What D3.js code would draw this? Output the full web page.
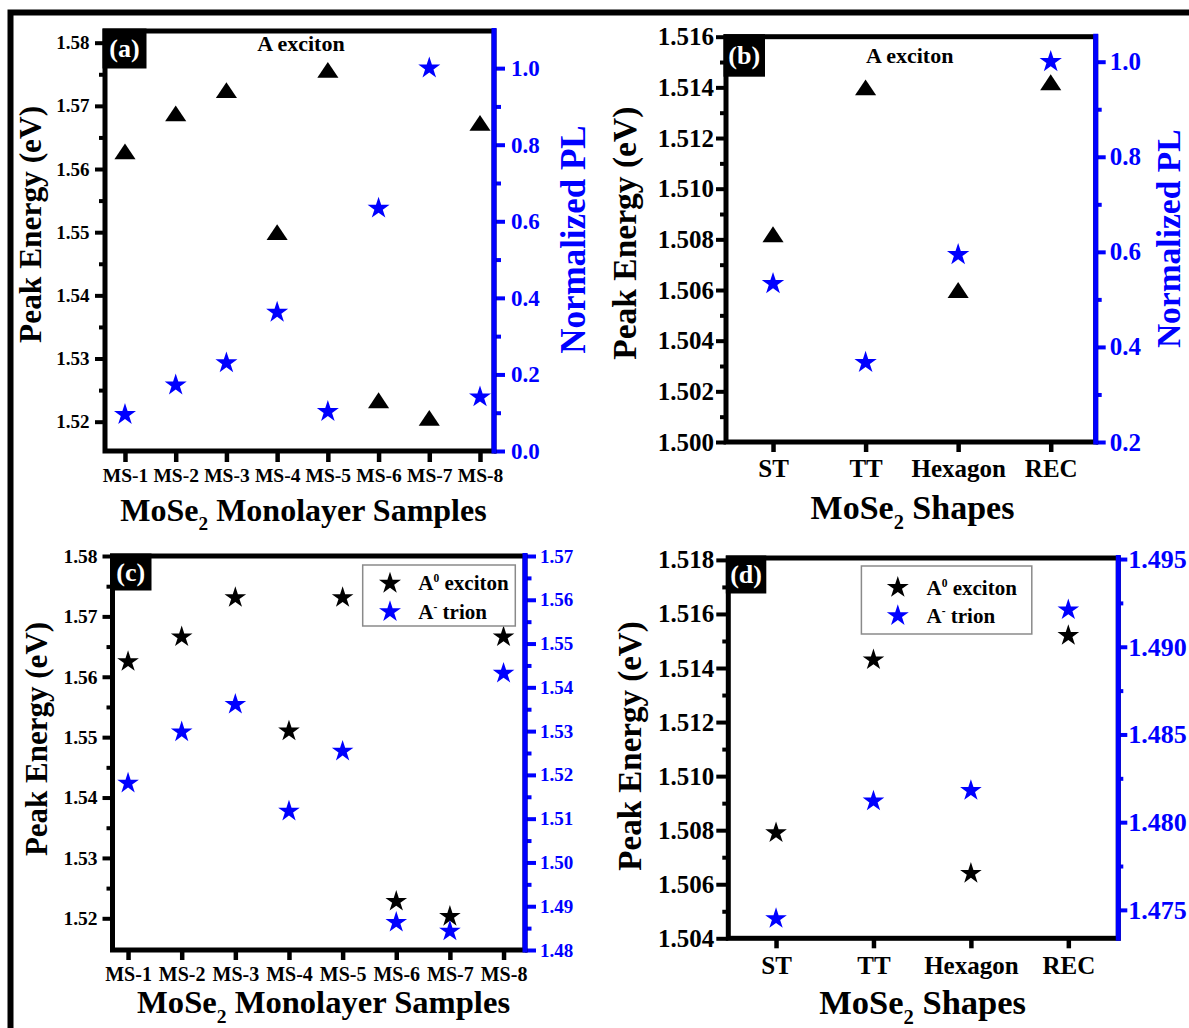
<!DOCTYPE html>
<meta charset="utf-8">
<html>
<head>
<style>
body {
  margin: 0;
  background: #fff;
}
svg text {
  font-family: "Liberation Serif", "Times New Roman", Times, serif;
  font-weight: bold;
}
</style>
</head>
<body>
<div id="fig"></div>

<script src="https://cdn.jsdelivr.net/npm/d3@7"></script>
<script>

// categories
var samples = ["MS-1", "MS-2", "MS-3", "MS-4", "MS-5", "MS-6", "MS-7", "MS-8"];
var shapes = ["ST", "TT", "Hexagon", "REC"];

// (a) A exciton peak energy (eV) and normalized PL per monolayer sample
var aPeak = [1.5628, 1.5688, 1.5725, 1.5500, 1.5757, 1.5234, 1.5206, 1.5673];
var aPL   = [0.095, 0.172, 0.230, 0.362, 0.103, 0.634, 1.000, 0.141];

// (b) A exciton peak energy (eV) and normalized PL per shape
var bPeak = [1.5082, 1.5140, 1.5060, 1.5142];
var bPL   = [0.533, 0.367, 0.594, 1.000];

// (c) A0 exciton (left axis) and A- trion (right axis) per sample
var cExciton = [1.5625, 1.5666, 1.5731, 1.5510, 1.5731, 1.5228, 1.5203, 1.5666];
var cTrion   = [1.5181, 1.5298, 1.5361, 1.5117, 1.5254, 1.4863, 1.4843, 1.5432];

// (d) A0 exciton (left axis) and A- trion (right axis) per shape
var dExciton = [1.5079, 1.5143, 1.5064, 1.5152];
var dTrion   = [1.4745, 1.4812, 1.4818, 1.4921];

// tick values
var aLeftTicks  = [1.52, 1.53, 1.54, 1.55, 1.56, 1.57, 1.58];
var aLeftMinor  = [1.525, 1.535, 1.545, 1.555, 1.565, 1.575];
var aRightTicks = [0.0, 0.2, 0.4, 0.6, 0.8, 1.0];
var aRightMinor = [0.1, 0.3, 0.5, 0.7, 0.9];
var bLeftTicks  = [1.500, 1.502, 1.504, 1.506, 1.508, 1.510, 1.512, 1.514, 1.516];
var bLeftMinor  = [1.501, 1.503, 1.505, 1.507, 1.509, 1.511, 1.513, 1.515];
var bRightTicks = [0.2, 0.4, 0.6, 0.8, 1.0];
var bRightMinor = [0.3, 0.5, 0.7, 0.9];
var cLeftTicks  = [1.52, 1.53, 1.54, 1.55, 1.56, 1.57, 1.58];
var cLeftMinor  = [1.525, 1.535, 1.545, 1.555, 1.565, 1.575];
var cRightTicks = [1.48, 1.49, 1.50, 1.51, 1.52, 1.53, 1.54, 1.55, 1.56, 1.57];
var cRightMinor = [1.485, 1.495, 1.505, 1.515, 1.525, 1.535, 1.545, 1.555, 1.565];
var dLeftTicks  = [1.504, 1.506, 1.508, 1.510, 1.512, 1.514, 1.516, 1.518];
var dLeftMinor  = [1.505, 1.507, 1.509, 1.511, 1.513, 1.515, 1.517];
var dRightTicks = [1.475, 1.480, 1.485, 1.490, 1.495];
var dRightMinor = [1.4775, 1.4825, 1.4875, 1.4925];

var FONT = '"Liberation Serif", "Times New Roman", Times, serif';
var BLUE = "#0000ff";

// triangle a bit wider than tall, centred on its bounding box
var wideTriangle = {
  draw: function(context, size) {
    var s = Math.sqrt(size), hw = s * 0.6, h = s * 0.9;
    context.moveTo(0, -h / 2);
    context.lineTo(hw, h / 2);
    context.lineTo(-hw, h / 2);
    context.closePath();
  }
};

var svg = d3.select("#fig")
  .append("svg")
    .attr("width", 1189)
    .attr("height", 1028);

svg.append("rect").attr("width", 1189).attr("height", 1028).attr("fill", "#fff");

// outer frame of the figure (cut at right and bottom)
svg.append("path")
  .attr("d", "M10.5,1032 V12.5 H1194")
  .attr("fill", "none")
  .attr("stroke", "#000")
  .attr("stroke-width", 6);

function styleAxis(sel, color, font, width) {
  sel.select(".domain").remove();
  sel.selectAll("line").attr("stroke", color).attr("stroke-width", width);
  sel.selectAll("text")
    .attr("fill", color)
    .style("font-family", FONT)
    .style("font-weight", "bold")
    .style("font-size", font + "px");
}

function supText(sel, main, sup, rest, size) {
  sel.append("tspan").text(main);
  sel.append("tspan").text(sup).style("font-size", (size * 0.55) + "px").attr("dy", -size * 0.38);
  sel.append("tspan").text(rest).attr("dy", size * 0.38);
}

function drawPanel(p) {
  var g = svg.append("g");
  var x = d3.scaleLinear().domain(p.xDomain).range([p.left, p.right]);
  var yL = d3.scaleLinear().domain(p.leftDomain).range([p.bottom, p.top]);
  var yR = d3.scaleLinear().domain(p.rightDomain).range([p.bottom, p.top]);
  var idx = p.cats.map(function(d, i) { return i + 1; });

  // left axis
  g.append("g").attr("transform", "translate(" + p.left + ",0)")
    .call(d3.axisLeft(yL).tickValues(p.leftMinor).tickSize(p.lMinor).tickSizeOuter(0).tickFormat(""))
    .call(styleAxis, "#000", p.lFont, 4);
  g.append("g").attr("transform", "translate(" + p.left + ",0)")
    .call(d3.axisLeft(yL).tickValues(p.leftTicks).tickSize(p.lMajor).tickPadding(p.lPad)
      .tickSizeOuter(0).tickFormat(d3.format(p.lFmt)))
    .call(styleAxis, "#000", p.lFont, 4);

  // right axis
  g.append("g").attr("transform", "translate(" + p.right + ",0)")
    .call(d3.axisRight(yR).tickValues(p.rightMinor).tickSize(p.rMinor).tickSizeOuter(0).tickFormat(""))
    .call(styleAxis, BLUE, p.rFont, 4);
  g.append("g").attr("transform", "translate(" + p.right + ",0)")
    .call(d3.axisRight(yR).tickValues(p.rightTicks).tickSize(p.rMajor).tickPadding(p.rPad)
      .tickSizeOuter(0).tickFormat(d3.format(p.rFmt)))
    .call(styleAxis, BLUE, p.rFont, 4);

  // bottom axis
  g.append("g").attr("transform", "translate(0," + p.bottom + ")")
    .call(d3.axisBottom(x).tickValues(idx).tickSize(p.bLen).tickPadding(p.bPad)
      .tickSizeOuter(0).tickFormat(function(i) { return p.cats[i - 1]; }))
    .call(styleAxis, "#000", p.bFont, 4.5);

  // frame
  g.append("rect")
    .attr("x", p.left).attr("y", p.top)
    .attr("width", p.right - p.left).attr("height", p.bottom - p.top)
    .attr("fill", "none").attr("stroke", "#000").attr("stroke-width", 5);
  g.append("line")
    .attr("x1", p.right).attr("x2", p.right)
    .attr("y1", p.top - 3).attr("y2", p.bottom + 2.5)
    .attr("stroke", BLUE).attr("stroke-width", 5);

  // panel letter
  g.append("rect")
    .attr("x", p.left - 2.5).attr("y", p.top - 2.5)
    .attr("width", p.boxW).attr("height", p.boxH)
    .attr("fill", "#000");
  g.append("text")
    .attr("x", p.left - 2.5 + p.boxW / 2).attr("y", p.top - 2.5 + p.boxH / 2)
    .attr("text-anchor", "middle").attr("dominant-baseline", "central")
    .attr("fill", "#fff").style("font-size", p.boxFont + "px")
    .text(p.letter);

  if (p.inner) {
    g.append("text")
      .attr("x", p.inner[0]).attr("y", p.inner[1])
      .attr("text-anchor", "middle").attr("dominant-baseline", "central")
      .style("font-size", "22px")
      .text("A exciton");
  }

  // markers
  p.series.forEach(function(s) {
    var y = s.right ? yR : yL;
    g.selectAll(null)
      .data(s.values)
      .enter()
      .append("path")
        .attr("transform", function(d, i) { return "translate(" + x(i + 1) + "," + y(d) + ")"; })
        .attr("d", d3.symbol().type(s.type).size(s.size))
        .attr("fill", s.color);
  });

  // legend
  if (p.legend) {
    var L = p.legend;
    g.append("rect")
      .attr("x", L.x0).attr("y", L.y0)
      .attr("width", L.x1 - L.x0).attr("height", L.y1 - L.y0)
      .attr("fill", "#fff").attr("stroke", "#8a8a8a").attr("stroke-width", 1.5);
    var items = [
      {color: "#000", sup: "0", rest: " exciton", y: L.row1},
      {color: BLUE, sup: "-", rest: " trion", y: L.row2}
    ];
    items.forEach(function(it) {
      g.append("path")
        .attr("transform", "translate(" + L.sx + "," + it.y + ")")
        .attr("d", d3.symbol().type(d3.symbolStar).size(150))
        .attr("fill", it.color);
      g.append("text")
        .attr("x", L.tx).attr("y", it.y + 7)
        .style("font-size", "21px")
        .call(supText, "A", it.sup, it.rest, 21);
    });
  }

  // axis titles
  g.append("text")
    .attr("transform", "translate(" + p.yTitle[0] + "," + p.yTitle[1] + ") rotate(-90)")
    .attr("text-anchor", "middle").attr("dominant-baseline", "central")
    .style("font-size", p.yTitle[2] + "px")
    .text("Peak Energy (eV)");

  if (p.rTitle) {
    g.append("text")
      .attr("transform", "translate(" + p.rTitle[0] + "," + p.rTitle[1] + ") rotate(-90)")
      .attr("text-anchor", "middle").attr("dominant-baseline", "central")
      .attr("fill", BLUE)
      .style("font-size", p.rTitle[2] + "px")
      .text("Normalized PL");
  }

  var fs = p.xTitle[2];
  var xt = g.append("text")
    .attr("x", p.xTitle[0]).attr("y", p.xTitle[1])
    .attr("text-anchor", "middle")
    .style("font-size", fs + "px");
  xt.append("tspan").text("MoSe");
  xt.append("tspan").text("2").style("font-size", (fs * 0.6) + "px").attr("dy", fs * 0.3);
  xt.append("tspan").text(p.xTitle[3]).attr("dy", -fs * 0.3);
}

drawPanel({
  cats: samples, letter: "(a)",
  left: 105, right: 494, top: 31, bottom: 451,
  xDomain: [0.606, 8.276], leftDomain: [1.51536, 1.58185], rightDomain: [0, 1.097],
  leftTicks: aLeftTicks, leftMinor: aLeftMinor, rightTicks: aRightTicks, rightMinor: aRightMinor,
  lFmt: ".2f", rFmt: ".1f", lFont: 19, rFont: 23, bFont: 19.5,
  lMajor: 10, lMinor: 6, lPad: 5.5, rMajor: 11, rMinor: 7, rPad: 6, bLen: 11, bPad: 6,
  boxW: 44, boxH: 40, boxFont: 26, inner: [301, 43.3],
  yTitle: [30, 224.4, 31.4], rTitle: [573, 239.6, 35], xTitle: [303.5, 520.5, 32, " Monolayer Samples"],
  series: [
    {values: aPeak, right: false, type: wideTriangle, size: 310, color: "#000"},
    {values: aPL, right: true, type: d3.symbolStar, size: 150, color: BLUE}
  ]
});

drawPanel({
  cats: shapes, letter: "(b)",
  left: 726, right: 1095.7, top: 36.7, bottom: 442,
  xDomain: [0.492, 4.486], leftDomain: [1.500, 1.516], rightDomain: [0.2, 1.0526],
  leftTicks: bLeftTicks, leftMinor: bLeftMinor, rightTicks: bRightTicks, rightMinor: bRightMinor,
  lFmt: ".3f", rFmt: ".1f", lFont: 25, rFont: 25, bFont: 25,
  lMajor: 10, lMinor: 6, lPad: 2, rMajor: 10, rMinor: 6, rPad: 4, bLen: 10, bPad: 7,
  boxW: 41.5, boxH: 42.5, boxFont: 26, inner: [909.7, 55],
  yTitle: [624.4, 233.2, 33.5], rTitle: [1168, 238.8, 33.5], xTitle: [912.5, 519, 34, " Shapes"],
  series: [
    {values: bPeak, right: false, type: wideTriangle, size: 310, color: "#000"},
    {values: bPL, right: true, type: d3.symbolStar, size: 155, color: BLUE}
  ]
});

drawPanel({
  cats: samples, letter: "(c)",
  left: 112.5, right: 525, top: 556, bottom: 950,
  xDomain: [0.71, 8.40], leftDomain: [1.51475, 1.58], rightDomain: [1.48, 1.57],
  leftTicks: cLeftTicks, leftMinor: cLeftMinor, rightTicks: cRightTicks, rightMinor: cRightMinor,
  lFmt: ".2f", rFmt: ".2f", lFont: 19.5, rFont: 19, bFont: 20,
  lMajor: 10, lMinor: 6, lPad: 5, rMajor: 11, rMinor: 6.5, rPad: 4, bLen: 10, bPad: 7,
  boxW: 41.5, boxH: 37, boxFont: 26,
  legend: {x0: 362.7, x1: 515.3, y0: 565, y1: 626, sx: 390, tx: 418.3, row1: 583.3, row2: 611.7},
  yTitle: [36.6, 739, 31], xTitle: [323.6, 1013.3, 32.6, " Monolayer Samples"],
  series: [
    {values: cExciton, right: false, type: d3.symbolStar, size: 145, color: "#000"},
    {values: cTrion, right: true, type: d3.symbolStar, size: 145, color: BLUE}
  ]
});

drawPanel({
  cats: shapes, letter: "(d)",
  left: 728.3, right: 1118.3, top: 558, bottom: 938.3,
  xDomain: [0.51, 4.513], leftDomain: [1.504, 1.51807], rightDomain: [1.47338, 1.49506],
  leftTicks: dLeftTicks, leftMinor: dLeftMinor, rightTicks: dRightTicks, rightMinor: dRightMinor,
  lFmt: ".3f", rFmt: ".3f", lFont: 25, rFont: 26, bFont: 25,
  lMajor: 12, lMinor: 6, lPad: 2, rMajor: 9, rMinor: 5, rPad: 1, bLen: 10, bPad: 7.5,
  boxW: 40.5, boxH: 38, boxFont: 26,
  legend: {x0: 861.4, x1: 1031.8, y0: 566, y1: 634, sx: 897.8, tx: 926.5, row1: 587.5, row2: 615.7},
  yTitle: [629.7, 746, 33], xTitle: [922.6, 1014, 34.5, " Shapes"],
  series: [
    {values: dExciton, right: false, type: d3.symbolStar, size: 145, color: "#000"},
    {values: dTrion, right: true, type: d3.symbolStar, size: 145, color: BLUE}
  ]
});

</script>
</body>
</html>
